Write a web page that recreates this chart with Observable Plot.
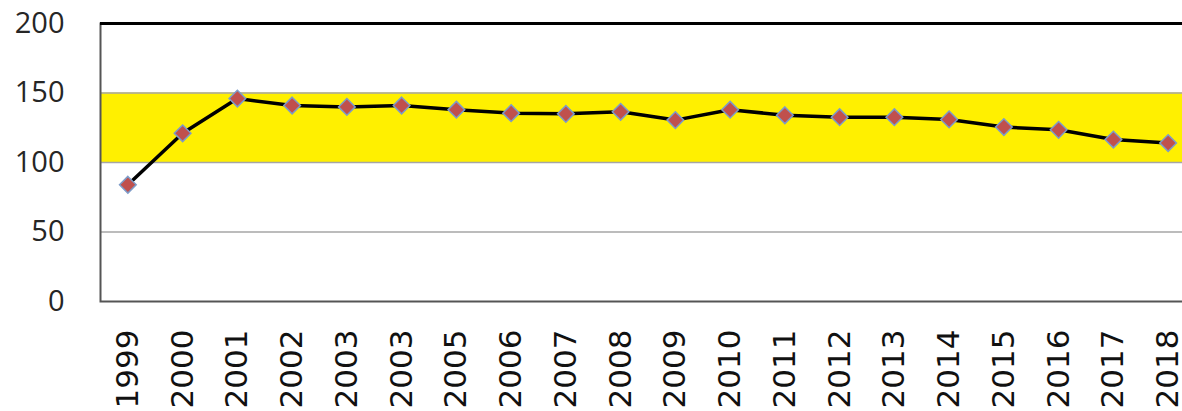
<!DOCTYPE html>
<html>
<head>
<meta charset="utf-8">
<script src="https://cdn.jsdelivr.net/npm/d3@7"></script>
<script src="https://cdn.jsdelivr.net/npm/@observablehq/plot@0.6"></script>
<style>
  html, body { margin: 0; padding: 0; background: #fff; overflow: hidden; }
  #chart svg { display: block; max-width: none !important; }
</style>
</head>
<body>
<div id="chart"></div>
<script>
const years = ["1999","2000","2001","2002","2003","2003","2005","2006","2007","2008","2009","2010","2011","2012","2013","2014","2015","2016","2017","2018"];
const values = [84, 121, 146, 141, 140, 141, 138, 135.5, 135, 136.5, 130.5, 138, 134, 132.6, 132.6, 131, 125.5, 123.5, 116.5, 114];
const bandLow = 100;
const bandHigh = 150;
const gridLines = [50, 100, 150];
const yTicks = [0, 50, 100, 150, 200];

const data = values.map((v, i) => ({i, v}));
const idx = years.map((_, i) => i);

const chart = Plot.plot({
  width: 1200,
  height: 411,
  marginLeft: 100,
  marginRight: 5,
  marginTop: 23,
  marginBottom: 110,
  style: {color: "#222", background: "#fff", maxWidth: "none"},
  x: {type: "linear", domain: [-0.5, years.length - 0.5], label: null},
  y: {domain: [0, 200], label: null},
  marks: [
    Plot.rectY([{}], {y1: bandLow, y2: bandHigh, fill: "#FFF000"}),
    Plot.ruleY(gridLines, {stroke: "#A6A6A6", strokeWidth: 1.5}),
    Plot.frame({stroke: "#555", strokeWidth: 2}),
    Plot.ruleY([200], {stroke: "#000", strokeWidth: 3}),
    Plot.axisY({ticks: yTicks, tickSize: 0, tickPadding: 36, fontSize: 29, fontFamily: "Open Sans", fill: "#262626", label: null}),
    Plot.axisX({ticks: idx, tickFormat: i => years[i], tickRotate: -90, tickSize: 0, tickPadding: 28, fontSize: 31, fontFamily: "DejaVu Sans", fill: "#111", label: null}),
    Plot.line(data, {x: "i", y: "v", stroke: "#000", strokeWidth: 3.5}),
    Plot.dot(data, {x: "i", y: "v", symbol: "diamond2", r: 7.5, fill: "#C0504D", stroke: "#7D9BC8", strokeWidth: 1.5})
  ]
});
document.getElementById("chart").append(chart);
</script>
</body>
</html>
